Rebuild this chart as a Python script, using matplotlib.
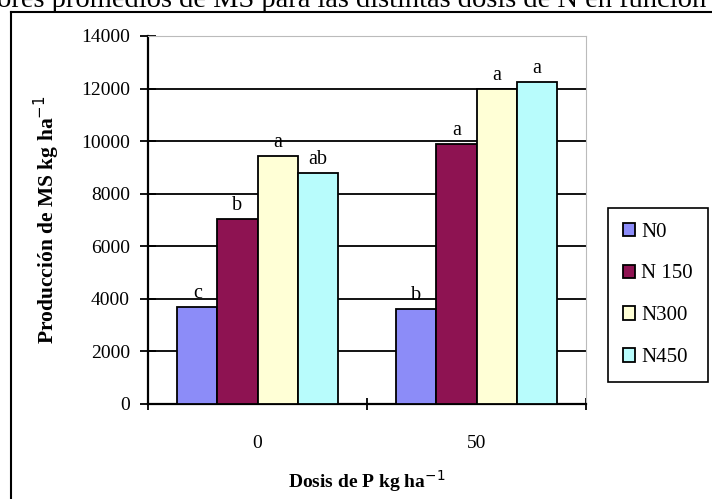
import numpy as np
import matplotlib
matplotlib.use("Agg")
import matplotlib.pyplot as plt
from matplotlib.lines import Line2D

# datos
dosis_p = ["0", "50"]
series = ["N0", "N 150", "N300", "N450"]
n0 = [3700, 3600]
n150 = [7050, 9900]
n300 = [9450, 12000]
n450 = [8780, 12260]
letras = [["c", "b"], ["b", "a"], ["a", "a"], ["ab", "a"]]

colores = ["#8C8CF8", "#8E1352", "#FFFFD6", "#B8FCFC"]

plt.rcParams["font.family"] = ["Liberation Serif", "DejaVu Serif"]

fig = plt.figure(figsize=(7.12, 4.99), dpi=100)
W, H = 712, 499
ax = fig.add_axes([148 / W, 1 - 404 / H, (586 - 148) / W, (404 - 36) / H])

x = np.arange(len(dosis_p))
ancho = 0.183
valores = [n0, n150, n300, n450]
for i, (vals, nombre) in enumerate(zip(valores, series)):
    pos = x + (i - 1.5) * ancho
    ax.bar(pos, vals, width=ancho, color=colores[i], edgecolor="black",
           linewidth=1.3, label=nombre, zorder=3)
    for px, v, t in zip(pos, vals, letras[i]):
        ax.text(px, v + 150, t, ha="center", va="bottom", fontsize=14.5, zorder=4)

ax.set_xlim(-0.5, 1.5)
ax.set_ylim(0, 14000)
ax.set_yticks(np.arange(0, 14001, 2000))
ax.set_xticks(x)
ax.set_xticklabels(dosis_p, fontsize=14)
ax.set_xticks([-0.5, 0.5, 1.5], minor=True)
ax.tick_params(axis="x", which="major", length=0, pad=22)
ax.tick_params(axis="x", which="minor", direction="inout", length=8, width=1.3)
ax.tick_params(axis="y", direction="inout", length=12, width=1.3, labelsize=14, pad=7)

ax.yaxis.grid(True, color="black", linewidth=1.3, zorder=0)
ax.set_axisbelow(True)
ax.spines["left"].set_linewidth(1.6)
ax.spines["bottom"].set_linewidth(1.6)
ax.spines["top"].set_color("#BBBBBB")
ax.spines["right"].set_color("#BBBBBB")

ax.set_ylabel("Producción de MS kg ha$^{-1}$", fontsize=15.5, fontweight="bold", labelpad=14)
ax.set_xlabel("Dosis de P kg ha$^{-1}$", fontsize=14, fontweight="bold", labelpad=12)

leg = fig.legend(loc="upper left", bbox_to_anchor=(608 / W, 1 - 208 / H),
                 borderaxespad=0, fontsize=15, handlelength=0.6, handleheight=0.6,
                 handletextpad=0.3, labelspacing=1.1, borderpad=0.7,
                 fancybox=False, edgecolor="black", framealpha=1)
leg.get_frame().set_linewidth(1.2)

# marco y titulo cortado
fig.add_artist(Line2D([11 / W, 11 / W], [0, 1 - 12 / H], color="black", lw=1.5))
fig.add_artist(Line2D([11 / W, 1], [1 - 12 / H, 1 - 12 / H], color="black", lw=1.5))
fig.text(-0.004, 1 - 7 / H, "ores promedios de MS para las distintas dosis de N en función",
         fontsize=20.5, va="baseline", ha="left")

fig.savefig("out.png", dpi=100)
